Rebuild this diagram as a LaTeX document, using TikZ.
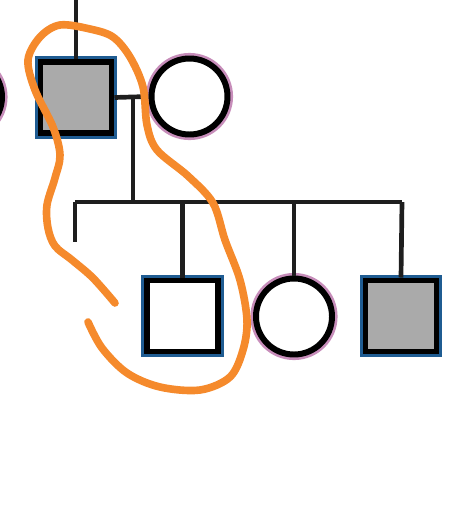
\documentclass[tikz,border=0pt]{standalone}
\usepackage{tikz}
\usetikzlibrary{positioning}
\definecolor{malerim}{HTML}{1F5C92}
\definecolor{femrim}{HTML}{C78DBA}
\definecolor{affected}{HTML}{AAAAAA}
\definecolor{marker}{HTML}{F58A2C}
\definecolor{ink}{HTML}{1E1E1E}

\begin{document}
\begin{tikzpicture}[
	x=0.03cm, y=-0.03cm,
	line/.style={draw=ink, line width=4pt},
	male/.style={rectangle, draw=black, line width=5.1pt, fill=white, inner sep=0pt, minimum size=2.13cm,
		preaction={draw=malerim, line width=9.5pt}},
	female/.style={circle, draw=black, line width=5.1pt, fill=white, inner sep=0pt, minimum size=2.28cm,
		preaction={draw=femrim, line width=9.5pt}},
	sick/.style={fill=affected},
	circled/.style={draw=marker, line width=6.5pt, line cap=round, line join=round}
	]
	\useasboundingbox (0,0) rectangle (472,528);
	% parents
	\node[male, sick] (dad) at (76,97.5) {};
	\node[female] (mom) at (189.5,96.5) {};
	\node[female] (exwife) at (-36,97) {};
	% children
	\node[male] (son) at (182.5,316) {};
	\node[female] (daughter) at (294,316.5) {};
	\node[male, sick] (son2) at (401,316) {};
	\coordinate (top) at (dad.north |- 0,0);
	\coordinate (mid) at (133,97.5);
	\coordinate (sibl) at (75,202);
	\coordinate (sibr) at (402,202);
	\coordinate (stub) at (75,242);
	\draw[line] (top) -- (dad.north);
	\draw[line] (dad.east) -- (mom.west);
	\draw[line] (mid) -- (mid |- sibl);
	\draw[line] (sibl) -- (sibr);
	\draw[line] (sibl) -- (stub);
	\draw[line] (son.north |- sibl) -- (son.north);
	\draw[line] (daughter.north |- sibl) -- (daughter.north);
	\draw[line] (sibr) -- (son2.north);
	% hand drawn loop
	\draw[circled] plot[smooth, tension=0.55] coordinates {
		(115,303) (93,278) (72,260) (55,246) (48,228) (47,205) (55,178) (60,155)
		(53,127) (35,90) (28,60) (40,37) (60,25) (90,29) (113,37) (130,57)
		(143,87) (147,125) (157,150) (188,176) (213,203) (225,240) (240,280)
		(247,320) (243,350) (230,377) (200,390) (160,387) (127,373) (102,348) (88,322)};
\end{tikzpicture}
\end{document}
